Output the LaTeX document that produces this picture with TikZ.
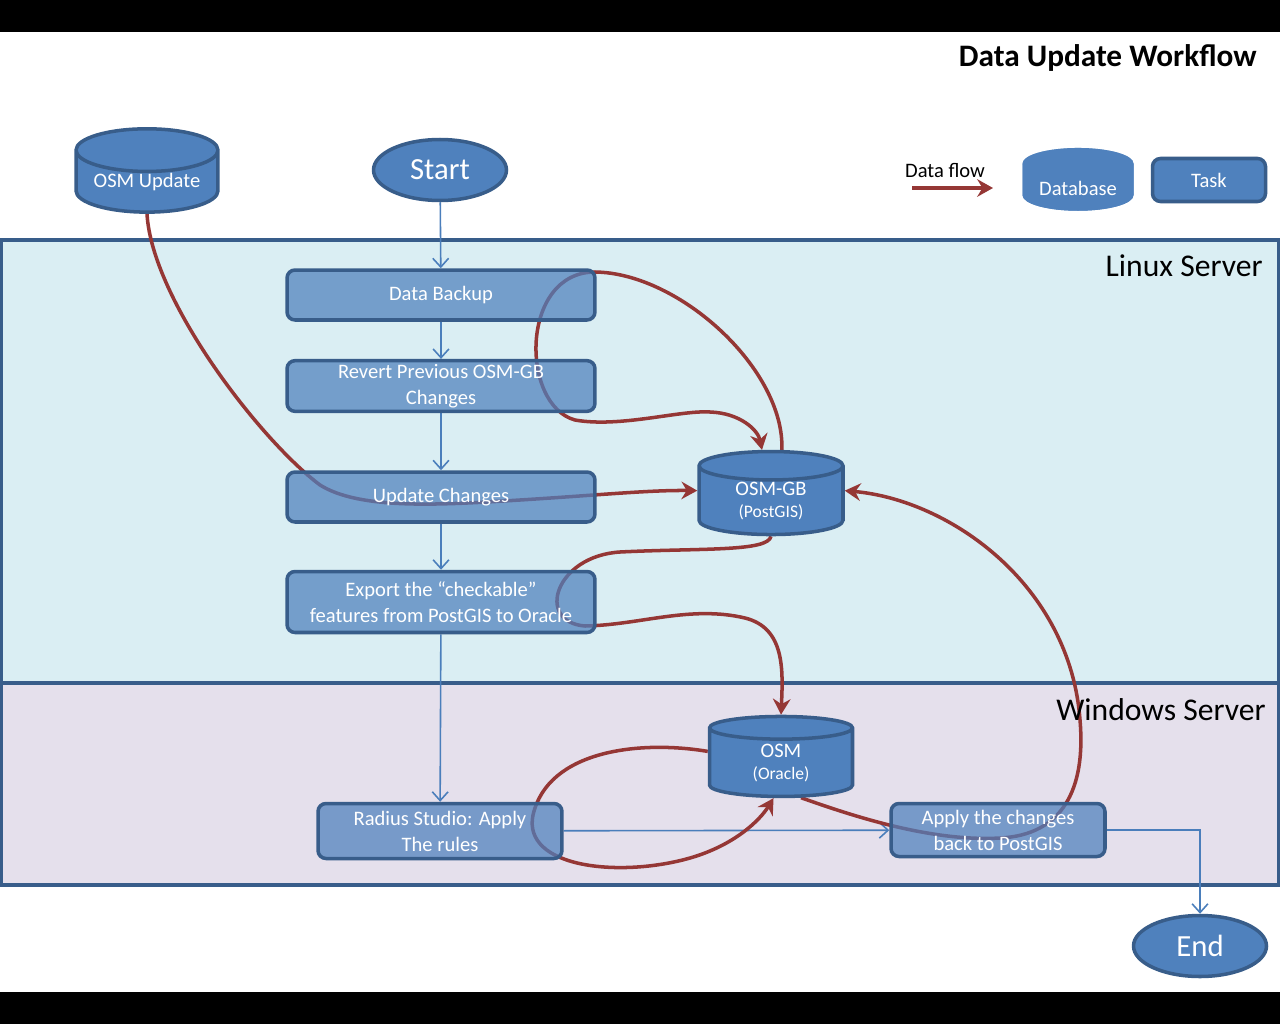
\documentclass[tikz,border=0pt]{standalone}
\usepackage{fontspec}
\setmainfont{Carlito}
\usepackage{tikz}
\usetikzlibrary{shapes.geometric,arrows.meta,positioning,calc}
\pgfdeclarelayer{background}
\pgfsetlayers{background,main}
\definecolor{taskblue}{HTML}{4F81BD}
\definecolor{edgeblue}{HTML}{385D8A}
\definecolor{linkblue}{HTML}{4A7EBB}
\definecolor{flowred}{HTML}{953735}
\definecolor{linuxbg}{HTML}{DAEEF3}
\definecolor{winbg}{HTML}{E5E0EC}
\definecolor{dblight}{HTML}{95B3D7}
\newcommand{\lblfont}{\fontsize{11.7}{14.8}\selectfont}
\newcommand{\dbfnt}{\fontsize{11.7}{13}\selectfont}
\newcommand{\subfnt}{\fontsize{10}{12}\selectfont}
\newcommand{\termfnt}{\fontsize{17.5}{20}\selectfont}
\newcommand{\bandfnt}{\fontsize{18}{20}\selectfont}
\newcommand{\titlefnt}{\fontsize{17.8}{20}\selectfont\bfseries}

\begin{document}
\begin{tikzpicture}[
    x=0.02cm,y=-0.02cm,
    task/.style={rectangle,rounded corners=0.16cm,draw=edgeblue,line width=2pt,fill=taskblue,fill opacity=0.73,text opacity=1,text=white,align=center,font=\lblfont,inner sep=2pt},
    db/.style={cylinder,shape border rotate=90,aspect=0.4,draw=edgeblue,line width=2pt,fill=taskblue,text=white,align=center,font=\dbfnt,inner sep=0pt},
    term/.style={ellipse,draw=edgeblue,line width=2pt,fill=taskblue,text=white,font=\termfnt,inner sep=0pt,minimum width=2.66cm,minimum height=1.22cm},
    flow/.style={-{Stealth[length=9pt,width=10pt,inset=3pt]},line width=2pt,draw=flowred},
    link/.style={-{Straight Barb[length=5pt,width=9pt]},line width=0.9pt,draw=linkblue},
    band/.style={draw=edgeblue,line width=2pt},
    plain/.style={inner sep=0pt,text=black}
]
    \useasboundingbox (0,0) rectangle (1280,1024);

    \node[plain,anchor=east,font=\titlefnt] (title) at (1257,58) {Data Update Workflow};

    \node[db,minimum width=2.84cm,minimum height=1.58cm] (osmupd) at (147,182) {OSM Update};
    \node[term] (start) at (440,170) {Start};

    \node[plain,font=\lblfont] (flowlbl) at (945,170) {Data flow};
    \coordinate (flowtail) at (912,188);
    \coordinate (flowhead) at (993,188);
    \node[db,draw=none,cylinder uses custom fill,cylinder body fill=taskblue,cylinder end fill=dblight,minimum width=2.22cm,minimum height=1.02cm] (dblegend) at (1078,188) {Database};
    \node[task,fill opacity=1,minimum width=2.26cm,minimum height=0.86cm] (tasklegend) at (1209,180) {Task};

    \node[plain,anchor=east,font=\bandfnt] (linuxlbl) at (1263,266) {Linux Server};
    \node[plain,anchor=east,font=\bandfnt] (winlbl) at (1266,710) {Windows Server};

    \node[task,minimum width=6.16cm,minimum height=1.0cm] (backup) at (441,295) {Data Backup};
    \node[task,minimum width=6.16cm,minimum height=1.0cm] (revert) at (441,386) {Revert Previous OSM-GB\\Changes};
    \node[task,minimum width=6.16cm,minimum height=1.0cm] (update) at (441,497) {Update Changes};
    \node[task,minimum width=6.16cm,minimum height=1.22cm] (export) at (441,602) {Export the ``checkable''\\features from PostGIS to Oracle};
    \node[db,minimum width=2.88cm,minimum height=1.45cm] (osmgb) at (771,501) {OSM-GB\\{\subfnt(PostGIS)}};
    \node[db,minimum width=2.86cm,minimum height=1.6cm] (osm) at (781,763) {OSM\\{\subfnt(Oracle)}};
    \node[task,minimum width=4.88cm,minimum height=1.1cm] (radius) at (440,831) {Radius Studio: Apply\\The rules};
    \node[task,minimum width=4.28cm,minimum height=1.06cm] (apply) at (998,830) {Apply the changes\\back to PostGIS};
    \node[term] (end) at (1200,946) {End};

    \draw[flow] (flowtail) -- (flowhead);

    \begin{pgfonlayer}{background}
    \fill[white] (0,0) rectangle (1280,1024);
    \fill[black] (0,0) rectangle (1280,32);
    \fill[black] (0,992) rectangle (1280,1024);
    \draw[band,fill=linuxbg] (1,240) rectangle (1279,683);
    \draw[band,fill=winbg] (1,683) rectangle (1279,885);

    \draw[link] (start) -- (backup);
    \draw[link] (backup) -- (revert);
    \draw[link] (revert) -- (update);
    \draw[link] (update) -- (export);
    \draw[link] (export) -- (radius);
    \draw[link] (radius) -- (apply);
    \draw[link] (apply.east) -| (end.north);

    \draw[flow] (osmupd.south) .. controls (152,300) and (260,440) .. (320,485) .. controls (360,510) and (440,505) .. (520,500) .. controls (600,495) and (650,490) .. (osmgb.172);
    \draw[flow] (osmgb.78) .. controls (785,370) and (680,273) .. (595,272) .. controls (520,272) and (520,405) .. (575,420) .. controls (620,428) and (680,410) .. (710,412) .. controls (740,413) and (758,430) .. (osmgb.100);
    \draw[flow] (osmgb.south) .. controls (768,552) and (700,548) .. (620,552) .. controls (555,556) and (535,622) .. (585,626) .. controls (640,625) and (690,605) .. (745,618) .. controls (785,628) and (783,670) .. (osm.north);
    \draw[flow] (osm.171) .. controls (640,740) and (548,750) .. (533,815) .. controls (522,868) and (620,878) .. (690,858) .. controls (735,845) and (760,820) .. (osm.258);
    \draw[flow] (osm.300) .. controls (850,815) and (930,842) .. (1000,838) .. controls (1062,835) and (1086,790) .. (1080,720) .. controls (1070,585) and (950,500) .. (osmgb.8);
    \end{pgfonlayer}
\end{tikzpicture}
\end{document}
